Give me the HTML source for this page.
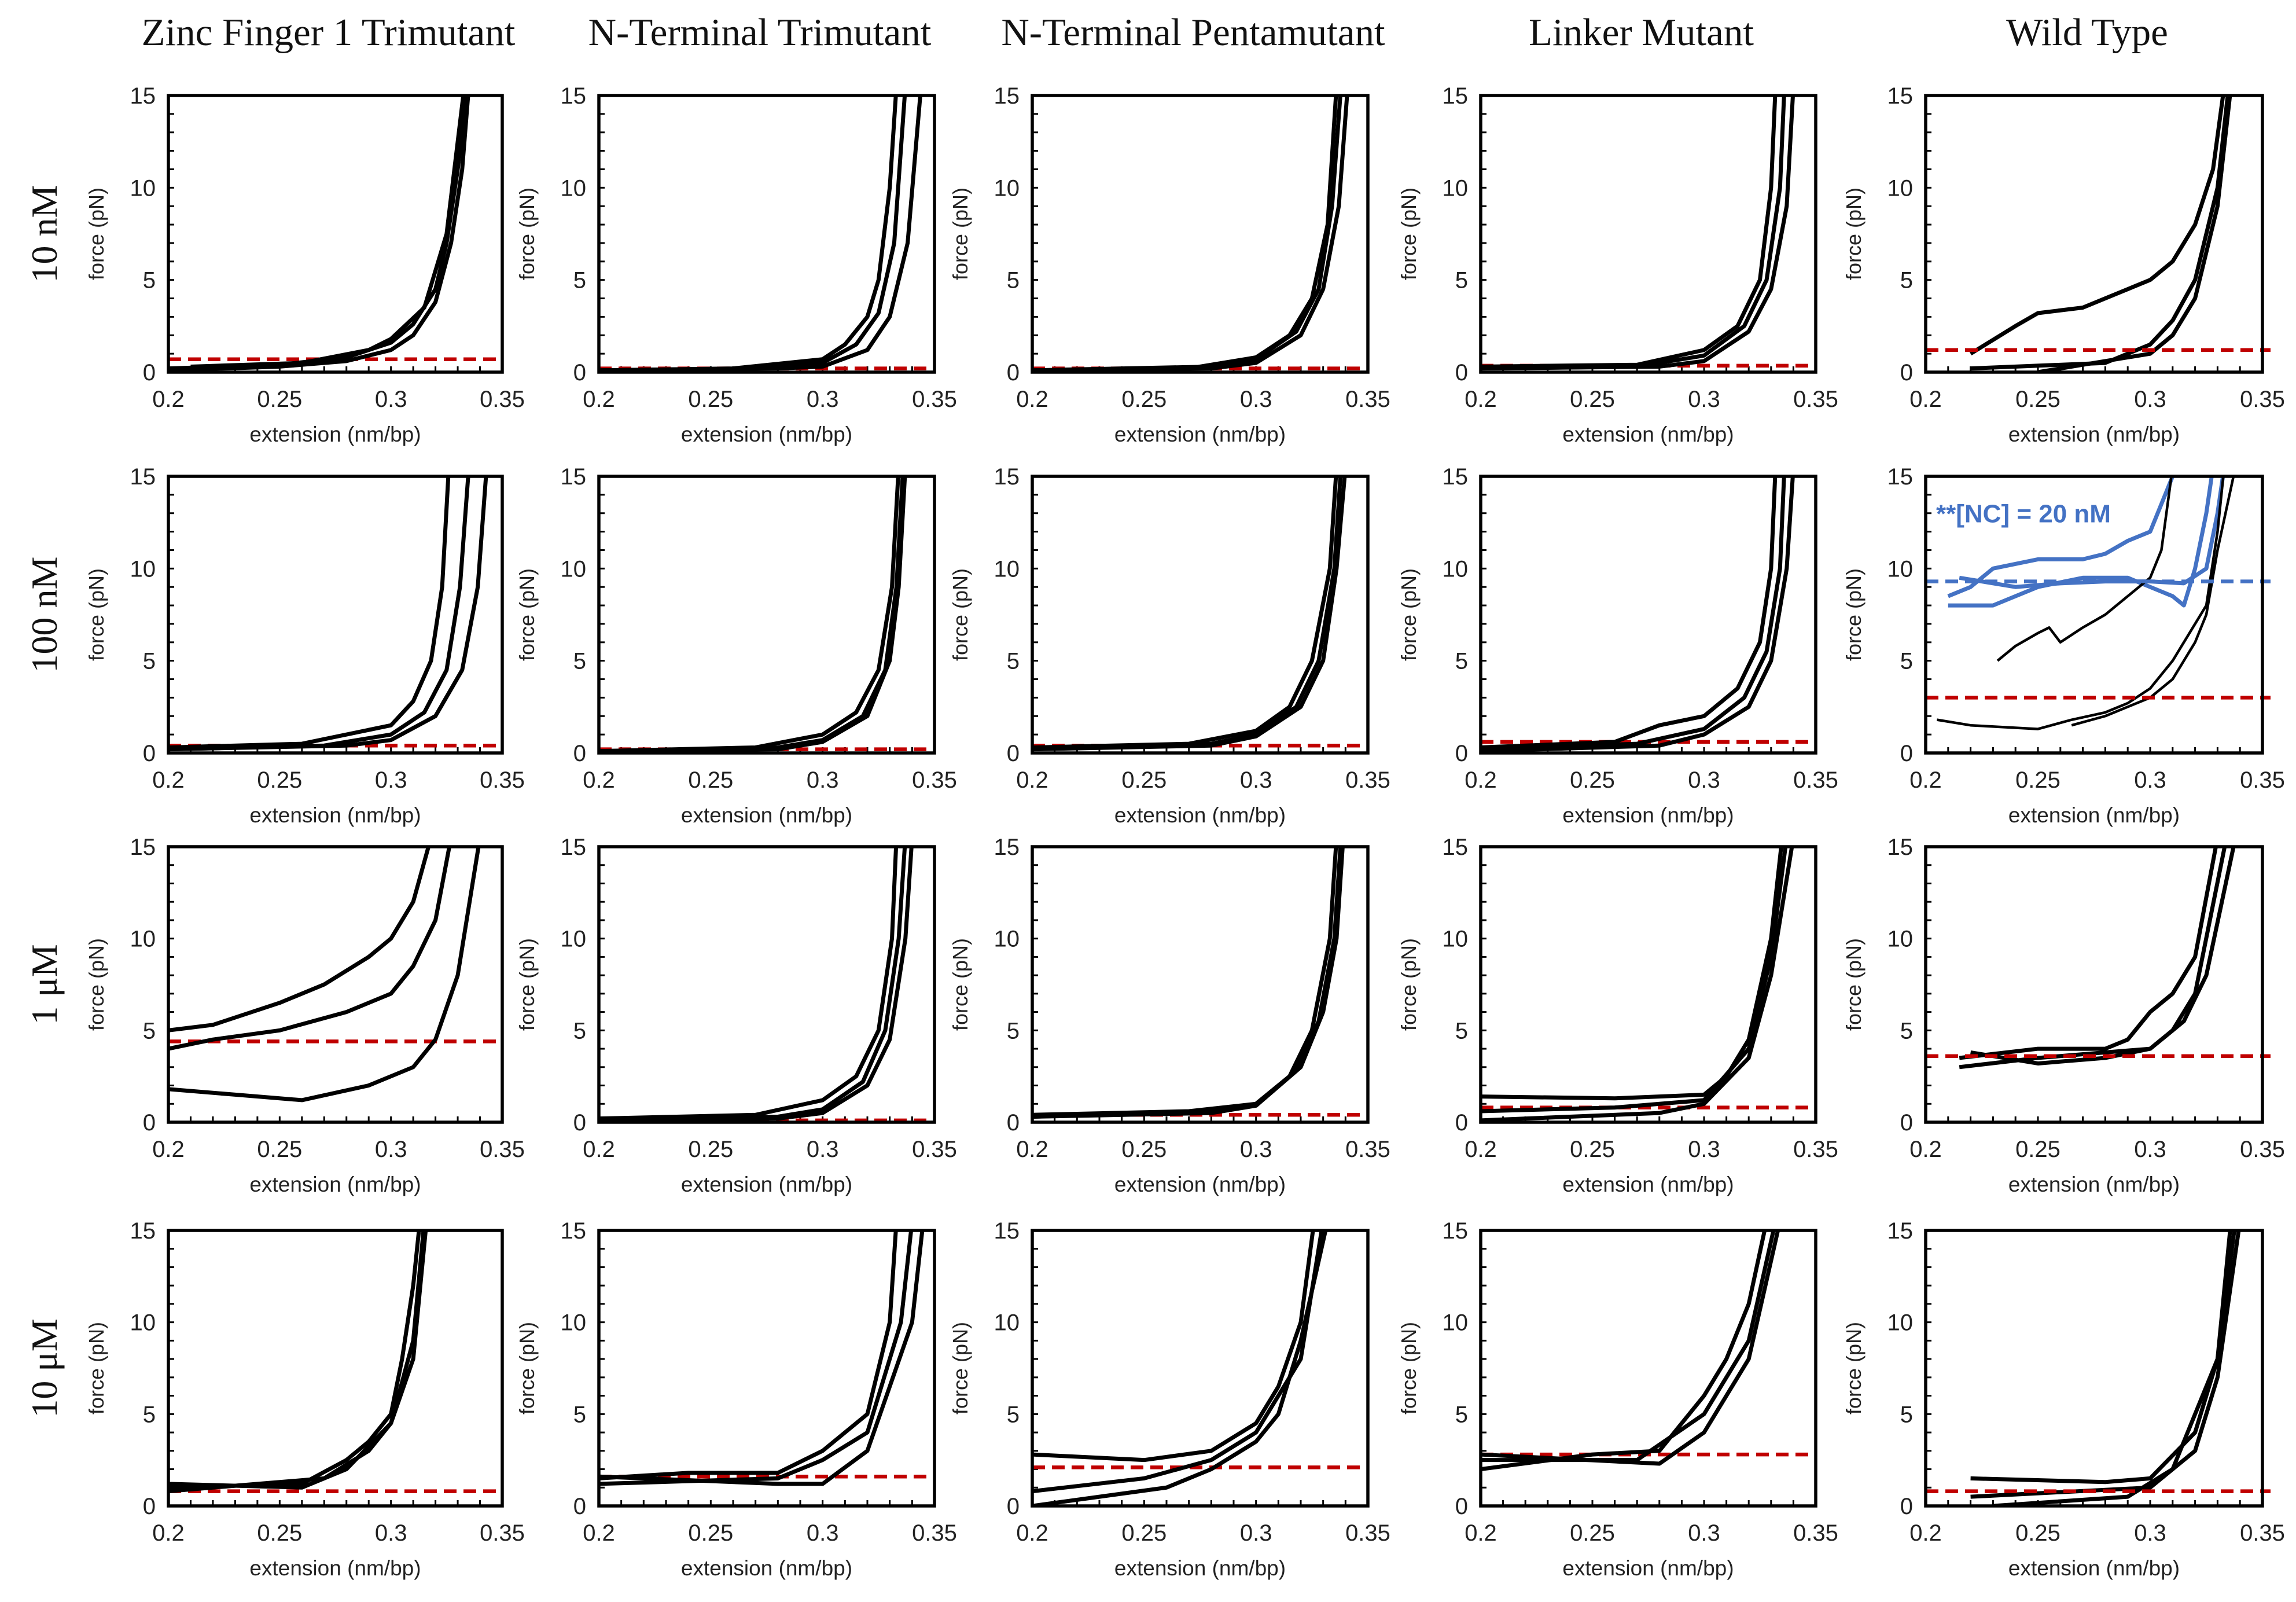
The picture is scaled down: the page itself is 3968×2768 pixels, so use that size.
<!DOCTYPE html>
<html><head><meta charset="utf-8"><style>
html,body{margin:0;padding:0;background:#fff}
svg{display:block}
</style></head><body>
<svg id="fig" width="3968" height="2768" viewBox="0 0 3968 2768" xmlns="http://www.w3.org/2000/svg"></svg>
<script>
const colTitles=["Zinc Finger 1 Trimutant","N-Terminal Trimutant","N-Terminal Pentamutant","Linker Mutant","Wild Type"];
const rowTitles=["10 nM","100 nM","1 μM","10 μM"];
const xTicks=[0.2,0.25,0.3,0.35];
const xTickLabels=["0.2","0.25","0.3","0.35"];
const yTicks=[0,5,10,15];
const yTickLabels=["0","5","10","15"];
// red dashed threshold per panel (row-major)
const redLevels=[0.7,0.2,0.2,0.35,1.2, 0.4,0.2,0.4,0.6,3.0, 4.4,0.1,0.4,0.8,3.6, 0.8,1.6,2.1,2.8,0.8];
const blueLevel=9.3;
// black curves per panel: [x (nm/bp), force (pN)]
const curves=[
 [[[0.2,0.2],[0.25,0.4],[0.28,0.8],[0.3,1.6],[0.31,2.6],[0.32,4.5],[0.325,7],[0.33,11],[0.334,15]],
  [[0.2,0.1],[0.25,0.3],[0.28,0.6],[0.3,1.2],[0.31,2],[0.32,3.8],[0.327,7],[0.332,11],[0.335,15.5]],
  [[0.21,0.3],[0.26,0.5],[0.29,1.2],[0.3,1.8],[0.315,3.5],[0.325,7.5],[0.333,15.5]]],
 [[[0.2,0.1],[0.26,0.2],[0.3,0.7],[0.31,1.5],[0.32,3],[0.325,5],[0.33,10],[0.333,15.5]],
  [[0.2,0.1],[0.27,0.2],[0.3,0.5],[0.315,1.5],[0.325,3.2],[0.332,7],[0.337,15.5]],
  [[0.2,0.1],[0.28,0.2],[0.3,0.3],[0.32,1.2],[0.33,3],[0.338,7],[0.344,15.5]]],
 [[[0.2,0.1],[0.27,0.2],[0.3,0.8],[0.315,2],[0.325,4],[0.332,8],[0.336,15.5]],
  [[0.2,0.1],[0.28,0.3],[0.3,0.7],[0.318,2.2],[0.328,4.5],[0.334,9],[0.338,15.5]],
  [[0.2,0.1],[0.28,0.2],[0.3,0.5],[0.32,2],[0.33,4.5],[0.337,9],[0.341,15.5]]],
 [[[0.2,0.3],[0.27,0.4],[0.3,1.2],[0.315,2.5],[0.325,5],[0.33,10],[0.332,15.5]],
  [[0.2,0.2],[0.27,0.3],[0.3,0.9],[0.318,2.5],[0.328,5],[0.334,10],[0.336,15.5]],
  [[0.2,0.2],[0.28,0.3],[0.3,0.6],[0.32,2.2],[0.33,4.5],[0.337,9],[0.34,15.5]]],
 [[[0.22,1],[0.24,2.5],[0.25,3.2],[0.27,3.5],[0.29,4.5],[0.3,5],[0.31,6],[0.32,8],[0.328,11],[0.333,15.5]],
  [[0.22,0.2],[0.28,0.5],[0.3,1.5],[0.31,2.8],[0.32,5],[0.33,10],[0.335,15.5]],
  [[0.25,0],[0.3,1],[0.31,2],[0.32,4],[0.33,9],[0.336,15.5]]],
 [[[0.2,0.3],[0.26,0.5],[0.3,1.5],[0.31,2.8],[0.318,5],[0.323,9],[0.326,15.5]],
  [[0.2,0.2],[0.27,0.4],[0.3,1],[0.315,2.2],[0.325,4.5],[0.331,9],[0.335,15.5]],
  [[0.2,0.2],[0.28,0.4],[0.3,0.7],[0.32,2],[0.332,4.5],[0.339,9],[0.343,15.5]]],
 [[[0.2,0.1],[0.27,0.3],[0.3,1],[0.315,2.2],[0.325,4.5],[0.331,9],[0.334,15.5]],
  [[0.2,0.1],[0.28,0.3],[0.3,0.7],[0.318,2],[0.328,4.5],[0.333,9],[0.336,15.5]],
  [[0.2,0.1],[0.28,0.2],[0.3,0.6],[0.32,2],[0.33,5],[0.334,9],[0.337,15.5]]],
 [[[0.2,0.3],[0.27,0.5],[0.3,1.2],[0.315,2.5],[0.325,5],[0.333,10],[0.336,15.5]],
  [[0.2,0.2],[0.28,0.5],[0.3,1],[0.318,2.5],[0.328,5],[0.335,10],[0.338,15.5]],
  [[0.2,0.2],[0.28,0.4],[0.3,0.9],[0.32,2.5],[0.33,5],[0.336,10],[0.34,15.5]]],
 [[[0.2,0.3],[0.26,0.6],[0.28,1.5],[0.3,2],[0.315,3.5],[0.325,6],[0.33,10],[0.332,15.5]],
  [[0.2,0.2],[0.27,0.5],[0.3,1.3],[0.318,3],[0.328,5.5],[0.334,10],[0.336,15.5]],
  [[0.2,0.1],[0.28,0.4],[0.3,1],[0.32,2.5],[0.33,5],[0.337,10],[0.34,15.5]]],
 [[[0.205,1.8],[0.22,1.5],[0.25,1.3],[0.265,1.8],[0.28,2.2],[0.29,2.7],[0.3,3.5],[0.31,5],[0.32,7],[0.325,8],[0.33,12],[0.333,15.5]],
  [[0.265,1.5],[0.28,2],[0.29,2.5],[0.3,3],[0.31,4],[0.32,6],[0.325,7.5],[0.33,11],[0.338,15.5]],
  [[0.232,5],[0.24,5.8],[0.25,6.5],[0.255,6.8],[0.26,6],[0.27,6.8],[0.28,7.5],[0.29,8.5],[0.3,9.5],[0.305,11],[0.31,15.5]]],
 [[[0.2,5],[0.22,5.3],[0.25,6.5],[0.27,7.5],[0.29,9],[0.3,10],[0.31,12],[0.318,15.5]],
  [[0.2,4],[0.22,4.5],[0.25,5],[0.28,6],[0.3,7],[0.31,8.5],[0.32,11],[0.327,15.5]],
  [[0.2,1.8],[0.23,1.5],[0.26,1.2],[0.29,2],[0.31,3],[0.32,4.5],[0.33,8],[0.34,15.5]]],
 [[[0.2,0.2],[0.27,0.4],[0.3,1.2],[0.315,2.5],[0.325,5],[0.331,10],[0.333,15.5]],
  [[0.2,0.1],[0.28,0.3],[0.3,0.7],[0.318,2.2],[0.328,5],[0.334,10],[0.337,15.5]],
  [[0.2,0.1],[0.28,0.2],[0.3,0.5],[0.32,2],[0.33,4.5],[0.337,10],[0.34,15.5]]],
 [[[0.2,0.4],[0.27,0.6],[0.3,1],[0.315,2.5],[0.325,5],[0.333,10],[0.336,15.5]],
  [[0.2,0.3],[0.28,0.6],[0.3,1],[0.318,2.8],[0.328,5.5],[0.335,10],[0.338,15.5]],
  [[0.2,0.3],[0.28,0.5],[0.3,0.9],[0.32,3],[0.33,6],[0.336,10],[0.339,15.5]]],
 [[[0.2,1.4],[0.26,1.3],[0.3,1.5],[0.31,2.5],[0.32,4.5],[0.33,10],[0.335,15.5]],
  [[0.2,0.6],[0.26,0.8],[0.3,1.2],[0.32,4],[0.33,9],[0.337,15.5]],
  [[0.2,0.1],[0.28,0.5],[0.3,1],[0.32,3.5],[0.33,8],[0.34,15.5]]],
 [[[0.215,3.5],[0.25,4],[0.28,4],[0.29,4.5],[0.3,6],[0.31,7],[0.32,9],[0.33,15.5]],
  [[0.215,3],[0.25,3.5],[0.28,3.8],[0.3,4],[0.31,5],[0.32,7],[0.334,15.5]],
  [[0.22,3.8],[0.25,3.2],[0.28,3.5],[0.3,4],[0.315,5.5],[0.325,8],[0.338,15.5]]],
 [[[0.2,1],[0.26,1.2],[0.28,2.5],[0.29,3.5],[0.3,5],[0.305,8],[0.31,12],[0.313,15.5]],
  [[0.2,0.8],[0.27,1.5],[0.29,3],[0.3,4.5],[0.31,8],[0.316,15.5]],
  [[0.2,1.2],[0.26,1],[0.28,2],[0.3,4.5],[0.31,9],[0.315,15.5]]],
 [[[0.2,1.5],[0.24,1.8],[0.28,1.8],[0.3,3],[0.32,5],[0.33,10],[0.333,15.5]],
  [[0.2,1.2],[0.28,1.5],[0.3,2.5],[0.32,4],[0.335,10],[0.34,15.5]],
  [[0.2,1.6],[0.28,1.2],[0.3,1.2],[0.32,3],[0.34,10],[0.345,15.5]]],
 [[[0.2,2.8],[0.25,2.5],[0.28,3],[0.3,4.5],[0.31,6.5],[0.32,10],[0.326,15.5]],
  [[0.2,0.8],[0.25,1.5],[0.28,2.5],[0.3,4],[0.32,8],[0.33,15.5]],
  [[0.2,0],[0.23,0.5],[0.26,1],[0.28,2],[0.3,3.5],[0.31,5],[0.32,9],[0.332,15.5]]],
 [[[0.2,2],[0.25,2.8],[0.28,3],[0.3,6],[0.31,8],[0.32,11],[0.328,15.5]],
  [[0.2,2.5],[0.27,2.5],[0.3,5],[0.32,9],[0.332,15.5]],
  [[0.2,2.8],[0.28,2.3],[0.3,4],[0.32,8],[0.334,15.5]]],
 [[[0.22,1.5],[0.28,1.3],[0.3,1.5],[0.32,4],[0.33,8],[0.338,15.5]],
  [[0.22,0.5],[0.3,1],[0.32,3],[0.33,7],[0.34,15.5]],
  [[0.23,0],[0.29,0.5],[0.31,2],[0.33,8],[0.336,15.5]]]
];
// blue NC=20nM curves (WT 100 nM panel)
const blueCurves=[
 [[0.21,8.5],[0.22,9],[0.23,10],[0.25,10.5],[0.27,10.5],[0.28,10.8],[0.29,11.5],[0.3,12],[0.305,13.5],[0.31,15]],
 [[0.21,8],[0.23,8],[0.25,9],[0.27,9.5],[0.29,9.5],[0.31,8.5],[0.315,8],[0.32,10],[0.325,13],[0.328,15.5]],
 [[0.215,9.5],[0.24,9],[0.26,9.2],[0.28,9.3],[0.3,9.3],[0.315,9.2],[0.325,10],[0.33,13],[0.333,15.5]]
];

const colX=[[291,868],[1035,1615],[1784,2364],[2559,3138],[3328,3910]];
const rowY=[[165,643],[823,1301],[1463,1939],[2126,2602]];
const NS="http://www.w3.org/2000/svg";
const svg=document.getElementById('fig');
function mk(tag,attrs,parent,text){const e=document.createElementNS(NS,tag);for(const k in attrs)e.setAttribute(k,attrs[k]);if(text!==undefined)e.textContent=text;(parent||svg).appendChild(e);return e;}
const SANS='"Liberation Sans", "DejaVu Sans", sans-serif', SERIF='"Liberation Serif", serif';

colTitles.forEach((t,c)=>{
  const el=mk('text',{x:(colX[c][0]+colX[c][1])/2-12,y:78,'font-family':SERIF,'font-size':67,'text-anchor':'middle',fill:'#111'},svg,t);
  
  
});
rowTitles.forEach((t,r)=>{
  const cy=(rowY[r][0]+rowY[r][1])/2;
  const el=mk('text',{x:0,y:0,transform:`translate(98,${cy}) rotate(-90)`,'font-family':SERIF,'font-size':64,'text-anchor':'middle',fill:'#111'},svg,t);
  
  
});

let idx=0;
for(let r=0;r<4;r++)for(let c=0;c<5;c++){
  const p=idx++;
  const [x0,x1]=colX[c],[y0,y1]=rowY[r];
  const sx=v=>x0+(v-0.2)/0.15*(x1-x0);
  const sy=v=>y1-v/15*(y1-y0);
  const g=mk('g',{});
  
  
  const cid='clip'+p;
  const cp=mk('clipPath',{id:cid},g);mk('rect',{x:x0,y:y0,width:x1-x0,height:y1-y0},cp);
  for(let v=1;v<15;v++){mk('line',{x1:x0,x2:x0+10,y1:sy(v),y2:sy(v),stroke:'#000','stroke-width':3},g);}
  for(let i=1;i<15;i++){const xv=0.2+i*0.01;mk('line',{x1:sx(xv),x2:sx(xv),y1:y1,y2:y1-10,stroke:'#000','stroke-width':3},g);}
  const plot=mk('g',{'clip-path':`url(#${cid})`},g);
  const red=mk('line',{x1:x0,x2:x1+14,y1:sy(redLevels[p]),y2:sy(redLevels[p]),stroke:'#c00000','stroke-width':6.5,'stroke-dasharray':'22 12'},c===4?g:plot);
  
  
  if(p===9){
    const bl=mk('line',{x1:x0,x2:x1+14,y1:sy(blueLevel),y2:sy(blueLevel),stroke:'#4472c4','stroke-width':6.5,'stroke-dasharray':'22 12'},g);
    
    
    blueCurves.forEach((cv,k)=>{
      const pl=mk('polyline',{points:cv.map(q=>sx(q[0])+','+sy(q[1])).join(' '),fill:'none',stroke:'#4472c4','stroke-width':7,'stroke-linejoin':'round'},plot);
      
      
    });
    const t=mk('text',{x:x0+18,y:sy(12.5),'font-family':SANS,'font-size':44,'font-weight':'bold',fill:'#4472c4'},g,'**[NC] = 20 nM');
    
    
  }
  curves[p].forEach((cv,k)=>{
    const pl=mk('polyline',{points:cv.map(q=>sx(q[0])+','+sy(q[1])).join(' '),fill:'none',stroke:'#000','stroke-width':p===9?4.5:7,'stroke-linejoin':'round'},plot);
    
    
  });
  const box=mk('rect',{x:x0,y:y0,width:x1-x0,height:y1-y0,fill:'none',stroke:'#000','stroke-width':5.5},g);
  
  
  yTicks.forEach((v,i)=>{const t=mk('text',{x:x0-22,y:sy(v)+14,'font-family':SANS,'font-size':40,'text-anchor':'end',fill:'#222'},g,yTickLabels[i]);
    
    });
  xTicks.forEach((v,i)=>{const t=mk('text',{x:sx(v),y:y1+60,'font-family':SANS,'font-size':40,'text-anchor':'middle',fill:'#222'},g,xTickLabels[i]);
    
    });
  const xt=mk('text',{x:(x0+x1)/2,y:y1+120,'font-family':SANS,'font-size':37,'text-anchor':'middle',fill:'#222'},g,'extension (nm/bp)');
  
  
  const yt=mk('text',{x:0,y:0,transform:`translate(${x0-112},${(y0+y1)/2}) rotate(-90)`,'font-family':SANS,'font-size':36,'text-anchor':'middle',fill:'#222'},g,'force (pN)');
  
  
}
</script>
</body></html>
